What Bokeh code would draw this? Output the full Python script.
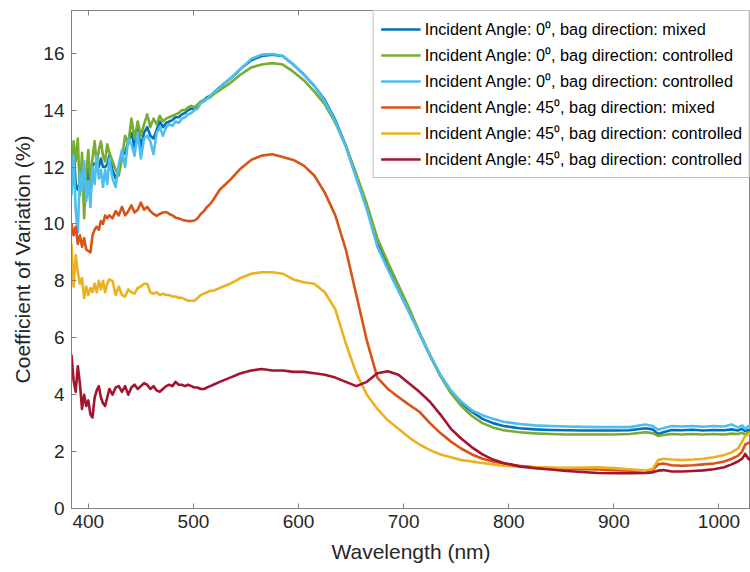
from bokeh.plotting import figure
from bokeh.models import Range1d, LinearAxis, Legend, LegendItem, FixedTicker
from bokeh.embed import file_html
from bokeh.resources import INLINE

# wavelength grid (nm)
wl_left = [384, 386, 388, 390, 392, 394, 396, 398, 400, 402, 404, 406, 408, 410, 412, 414, 416, 418, 420,
           423, 426, 429, 432, 435, 438, 441, 444, 447, 450, 453, 456, 459, 462, 465, 468, 471, 474, 477,
           480, 483, 486, 489, 492, 495, 498, 501, 504, 507, 510, 513, 516, 519]
wl_right = [525, 535, 545, 555, 565, 575, 585, 595, 605, 615, 625, 635, 645, 655, 665, 675, 685, 695, 705,
            715, 725, 735, 745, 755, 765, 775, 785, 795, 810, 825, 840, 855, 870, 885, 900, 915, 930,
            937, 942, 947, 955, 965, 975, 985, 995, 1005, 1012, 1018, 1022, 1025, 1028, 1030]

# Incident 0, mixed (dark blue)
db_left = [11.3, 12.6, 11.4, 11.2, 11.5, 11.8, 11.0, 11.3, 12.0, 11.0, 12.1, 12.1, 12.2, 12.0, 12.3, 12.0, 12.0, 12.1, 12.4,
           11.9, 11.6, 11.9, 12.4, 12.5, 12.9, 13.2, 12.7, 13.4, 12.7, 13.2, 13.4, 13.1, 13.0, 13.3, 13.6, 13.4, 13.55,
           13.6, 13.65, 13.75, 13.75, 13.85, 13.9, 14.0, 14.05, 14.05, 14.15, 14.3, 14.35, 14.45, 14.5, 14.6]
db_right = [14.8, 15.1, 15.45, 15.75, 15.9, 15.95, 15.9, 15.6, 15.25, 14.85,
            14.35, 13.65, 12.75, 11.65, 10.6, 9.3, 8.5, 7.7, 6.95, 6.15,
            5.38, 4.68, 4.1, 3.7, 3.4, 3.15, 3.0, 2.9,
            2.82, 2.78, 2.76, 2.75, 2.74, 2.74, 2.74, 2.75, 2.82,
            2.78, 2.62, 2.68, 2.76, 2.75, 2.77, 2.74, 2.76, 2.75, 2.78, 2.74, 2.8, 2.72, 2.76, 2.74]

# Incident 0, controlled (green)
g_left = [11.5, 12.9, 12.2, 13.0, 11.0, 12.5, 10.2, 11.8, 12.6, 11.4, 12.3, 12.9, 12.1, 12.6, 12.9, 12.4, 12.2, 12.8, 12.5,
          12.2, 11.9, 11.7, 12.3, 13.1, 12.8, 13.7, 13.0, 13.6, 13.1, 13.5, 13.85, 13.4, 13.7, 13.5, 13.8, 13.6, 13.7,
          13.75, 13.8, 13.85, 13.9, 14.0, 14.0, 14.1, 14.15, 14.1, 14.2, 14.3, 14.35, 14.4, 14.45, 14.55]
g_right = [14.7, 14.95, 15.25, 15.5, 15.6, 15.65, 15.6, 15.35, 15.05, 14.65,
           14.2, 13.55, 12.75, 11.75, 10.7, 9.5, 8.65, 7.85, 7.05, 6.2,
           5.4, 4.65, 4.05, 3.6, 3.25, 3.0, 2.85, 2.75,
           2.68, 2.64, 2.62, 2.6, 2.6, 2.6, 2.6, 2.62, 2.68,
           2.65, 2.55, 2.58, 2.62, 2.6, 2.62, 2.6, 2.62, 2.6, 2.63, 2.62, 2.66, 2.6, 2.68, 2.65]

# Incident 0, controlled (light blue)
lb_left = [11.0, 12.4, 10.5, 9.7, 11.8, 11.2, 12.2, 10.8, 11.5, 10.6, 12.0, 11.4, 12.4, 11.6, 11.9, 11.3, 11.9, 11.4, 12.3,
           11.6, 11.3, 12.1, 12.6, 12.0, 13.0, 12.8, 12.4, 13.2, 12.3, 13.0, 13.1, 12.9, 12.45, 13.2, 13.4, 13.1, 13.4,
           13.5, 13.45, 13.6, 13.55, 13.7, 13.75, 13.85, 13.9, 14.0, 14.05, 14.25, 14.3, 14.4, 14.5, 14.6]
lb_right = [14.8, 15.1, 15.45, 15.8, 15.95, 15.97, 15.9, 15.6, 15.25, 14.85,
            14.3, 13.6, 12.7, 11.6, 10.5, 9.2, 8.4, 7.65, 6.9, 6.15,
            5.4, 4.7, 4.15, 3.75, 3.45, 3.28, 3.15, 3.05,
            2.97, 2.92, 2.9, 2.88, 2.87, 2.86, 2.86, 2.86, 2.95,
            2.9, 2.77, 2.82, 2.9, 2.88, 2.9, 2.87, 2.9, 2.88, 2.95, 2.85, 2.92, 2.8, 2.9, 2.85]

# Incident 45, mixed (orange)
o_left = [10.0, 9.6, 9.9, 9.3, 9.6, 9.2, 9.5, 9.1, 9.05, 9.0, 9.6, 9.8, 9.9, 9.8, 10.1, 10.0, 10.3, 10.2, 10.3,
          10.2, 10.45, 10.3, 10.6, 10.3, 10.45, 10.65, 10.4, 10.5, 10.75, 10.5, 10.6, 10.45, 10.35, 10.28, 10.35, 10.4, 10.42,
          10.35, 10.3, 10.22, 10.2, 10.15, 10.12, 10.1, 10.1, 10.12, 10.2, 10.35, 10.45, 10.6, 10.7, 10.85]
o_right = [11.2, 11.55, 11.95, 12.25, 12.4, 12.45, 12.35, 12.25, 12.05, 11.7,
           11.1, 10.3, 9.1, 7.5, 5.9, 4.6, 4.2, 3.92, 3.65, 3.4,
           3.0, 2.65, 2.35, 2.1, 1.9, 1.75, 1.65, 1.57,
           1.5, 1.45, 1.42, 1.4, 1.38, 1.37, 1.35, 1.33, 1.3,
           1.35, 1.55, 1.58, 1.52, 1.5, 1.52, 1.55, 1.58, 1.65, 1.75, 1.85, 2.0, 2.25, 2.3, 2.35]

# Incident 45, controlled (yellow)
y_left = [9.3, 7.8, 8.9, 8.3, 7.9, 8.1, 7.4, 7.8, 7.5, 7.75, 7.6, 7.9, 7.6, 8.0, 7.7, 8.0, 7.6, 7.9, 8.05,
          8.0, 7.5, 7.8, 7.5, 7.45, 7.7, 7.6, 7.55, 7.75, 7.8, 7.9, 7.9, 7.6, 7.55, 7.6, 7.5, 7.55, 7.5,
          7.5, 7.45, 7.45, 7.4, 7.4, 7.35, 7.3, 7.3, 7.3, 7.4, 7.5, 7.55, 7.6, 7.65, 7.65]
y_right = [7.75, 7.9, 8.1, 8.25, 8.3, 8.3, 8.25, 8.05, 7.95, 7.9,
           7.6, 7.0, 5.8, 4.75, 4.0, 3.5, 3.1, 2.8, 2.5, 2.25,
           2.05, 1.9, 1.8, 1.7, 1.65, 1.6, 1.55, 1.5,
           1.47, 1.45, 1.44, 1.43, 1.44, 1.45, 1.42, 1.38, 1.33,
           1.4, 1.7, 1.75, 1.72, 1.7, 1.72, 1.75, 1.8, 1.88, 1.97, 2.1, 2.35, 2.55, 2.6, 2.65]

# Incident 45, controlled (dark red)
r_left = [5.4, 4.5, 4.1, 5.0, 4.4, 3.5, 4.0, 3.6, 3.8, 3.3, 3.2, 3.9, 4.15, 4.3, 3.9, 3.7, 3.6, 3.9, 4.2,
          4.0, 4.25, 4.3, 4.1, 4.3, 4.0, 4.25, 4.35, 4.2, 4.3, 4.4, 4.35, 4.2, 4.3, 4.15, 4.1, 4.2, 4.3,
          4.35, 4.3, 4.45, 4.35, 4.35, 4.3, 4.35, 4.3, 4.25, 4.25, 4.2, 4.2, 4.25, 4.3, 4.35]
r_right = [4.45, 4.6, 4.75, 4.85, 4.9, 4.85, 4.85, 4.8, 4.8, 4.75,
           4.7, 4.6, 4.45, 4.3, 4.45, 4.75, 4.82, 4.7, 4.4, 4.1,
           3.75, 3.3, 2.8, 2.45, 2.15, 1.9, 1.72, 1.6,
           1.48, 1.42, 1.37, 1.32, 1.28, 1.25, 1.24, 1.24, 1.25,
           1.27, 1.33, 1.35, 1.3, 1.3, 1.32, 1.34, 1.38, 1.45, 1.55, 1.65, 1.75, 1.92, 1.75, 1.7]

labels = [
    "Incident Angle: 0\u2070, bag direction: mixed",
    "Incident Angle: 0\u2070, bag direction: controlled",
    "Incident Angle: 0\u2070, bag direction: controlled",
    "Incident Angle: 45\u2070, bag direction: mixed",
    "Incident Angle: 45\u2070, bag direction: controlled",
    "Incident Angle: 45\u2070, bag direction: controlled",
]
colors = ["#0072BD", "#77AC30", "#4DBEEE", "#D95319", "#EDB120", "#A2142F"]
x_ticks = [400, 500, 600, 700, 800, 900, 1000]
y_ticks = [0, 2, 4, 6, 8, 10, 12, 14, 16]

wl = wl_left + wl_right
series = [db_left + db_right, g_left + g_right, lb_left + lb_right,
          o_left + o_right, y_left + y_right, r_left + r_right]

FONT = "Liberation Sans"
AX = "#808080"
TXT = "#262626"

p = figure(width=750, height=572, output_backend="svg", toolbar_location=None,
           x_range=Range1d(384, 1030), y_range=Range1d(0, 17.5),
           min_border_left=71, min_border_right=0, min_border_top=10, min_border_bottom=64,
           background_fill_color="white", border_fill_color="white")
p.grid.visible = False
p.outline_line_color = AX
p.outline_line_width = 1

renderers = []
for ys, col in zip(series, colors):
    r = p.line(wl, ys, line_color=col, line_width=2.6, line_join="round")
    renderers.append(r)

for ax in (p.xaxis[0], p.yaxis[0]):
    ax.axis_line_color = AX
    ax.major_tick_line_color = AX
    ax.major_tick_in = 5
    ax.major_tick_out = 0
    ax.minor_tick_line_color = None
    ax.major_label_text_font = FONT
    ax.major_label_text_font_size = "19px"
    ax.major_label_text_color = TXT
    ax.axis_label_text_font = FONT
    ax.axis_label_text_font_size = "21px"
    ax.axis_label_text_font_style = "normal"
    ax.axis_label_text_color = TXT

p.xaxis[0].ticker = FixedTicker(ticks=x_ticks)
p.yaxis[0].ticker = FixedTicker(ticks=y_ticks)
p.xaxis[0].axis_label = "Wavelength (nm)"
p.yaxis[0].axis_label = "Coefficient of Variation (%)"
p.xaxis[0].major_label_standoff = 6
p.xaxis[0].axis_label_standoff = 9
p.yaxis[0].major_label_standoff = 7
p.yaxis[0].axis_label_standoff = 6

top = LinearAxis(ticker=FixedTicker(ticks=x_ticks), major_label_text_font_size="0px",
                 major_label_text_color=None,
                 major_tick_in=5, major_tick_out=0, axis_line_color=None,
                 major_tick_line_color=AX, minor_tick_line_color=None, major_label_standoff=0)
p.add_layout(top, "above")

legend = Legend(items=[LegendItem(label=l, renderers=[r]) for l, r in zip(labels, renderers)],
                location="top_right", margin=0, padding=7, spacing=4,
                glyph_width=40, glyph_height=20, label_height=20, label_standoff=4,
                label_text_font=FONT, label_text_font_size="16.3px", label_text_color="#000000",
                border_line_color=AX, border_line_width=1, background_fill_color="white",
                background_fill_alpha=1.0)
p.add_layout(legend)

open("out.html", "w").write(file_html(p, INLINE))
